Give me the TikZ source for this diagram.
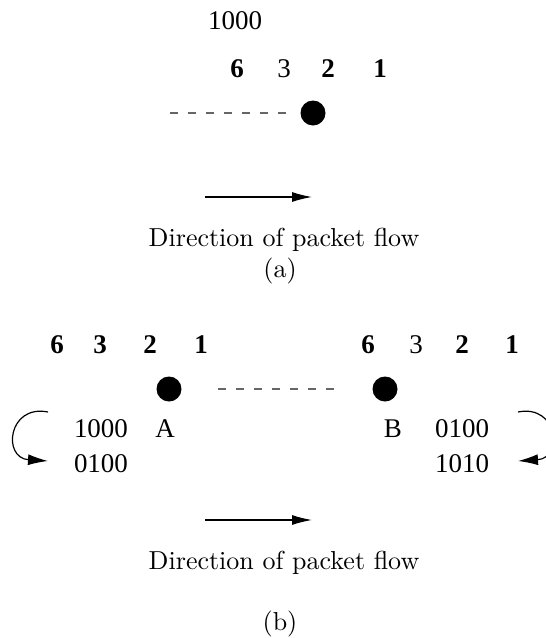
\documentclass[tikz,border=0pt]{standalone}
\usepackage{fontspec}
\newfontfamily\tms{Liberation Serif}
\usetikzlibrary{arrows.meta}
\newcommand{\bigcm}[1]{\scalebox{2.6}{\fontsize{10}{12}\selectfont #1}}
\tikzset{
  num/.style={anchor=base, inner sep=0pt, font=\tms\fontsize{27}{30}\selectfont},
  bnum/.style={anchor=base, inner sep=0pt, font=\tms\fontsize{27}{30}\selectfont\bfseries},
  rnum/.style={anchor=base, inner sep=0pt, font=\tms\fontsize{27}{30}\selectfont},
  captext/.style={anchor=base, inner sep=0pt},
  dot/.style={circle, fill=black, minimum size=25pt, inner sep=0pt},
  link/.style={draw=black!60, line width=1.4pt, dash pattern=on 8pt off 10pt},
  flow/.style={line width=1.2pt, -{Latex[length=20pt,width=10pt]}},
  loop/.style={line width=1.2pt, -{Latex[length=20pt,width=11pt]}}
}
\begin{document}
\begin{tikzpicture}[x=1pt,y=-1pt]
\useasboundingbox (0,0) rectangle (546,638);
% (a)
\node[num] (t1000) at (235,29) {1000};
\node[bnum] (a6) at (237,77) {6};
\node[rnum] (a3) at (284,77) {3};
\node[bnum] (a2) at (328,77) {2};
\node[bnum] (a1) at (380,77) {1};
\coordinate (da) at (170,113);
\node[dot] (ca) at (313,113) {};
\draw[link] (da) -- ([xshift=-12.5pt]ca.west);
\coordinate (fa1) at (205,197);
\coordinate (fa2) at (312,197);
\draw[flow] (fa1) -- (fa2);
\node[captext] (dira) at (284,246) {\bigcm{Direction of packet flow}};
\node[captext] (laba) at (280,277) {\bigcm{(a)}};
% (b)
\node[bnum] (l6) at (57,353) {6};
\node[bnum] (l3) at (100,353) {3};
\node[bnum] (l2) at (150,353) {2};
\node[bnum] (l1) at (201,353) {1};
\node[bnum] (r6) at (368,353) {6};
\node[rnum] (r3) at (416,353) {3};
\node[bnum] (r2) at (462,353) {2};
\node[bnum] (r1) at (512,353) {1};
\node[dot] (A) at (169,389) {};
\node[dot] (B) at (385,389) {};
\draw[link, shorten <=36.5pt, shorten >=35.5pt] (A.east) -- (B.west);
\node[num] (la) at (101,437) {1000};
\node[num] (lA) at (165,437) {A};
\node[num] (lb) at (101,472) {0100};
\node[num] (rB) at (393,437) {B};
\node[num] (ra) at (462,437) {0100};
\node[num] (rb) at (462,472) {1010};
\coordinate (ls) at (48,412);
\coordinate (le) at (48,461);
\draw[loop] (ls) .. controls (8,404) and (2,458) .. (le);
\coordinate (rs) at (518,412);
\coordinate (re) at (518,461);
\draw[loop] (rs) .. controls (558,404) and (564,458) .. (re);
\coordinate (fb1) at (205,520);
\coordinate (fb2) at (312,520);
\draw[flow] (fb1) -- (fb2);
\node[captext] (dirb) at (284,569) {\bigcm{Direction of packet flow}};
\node[captext] (labb) at (280,630) {\bigcm{(b)}};
\end{tikzpicture}
\end{document}
